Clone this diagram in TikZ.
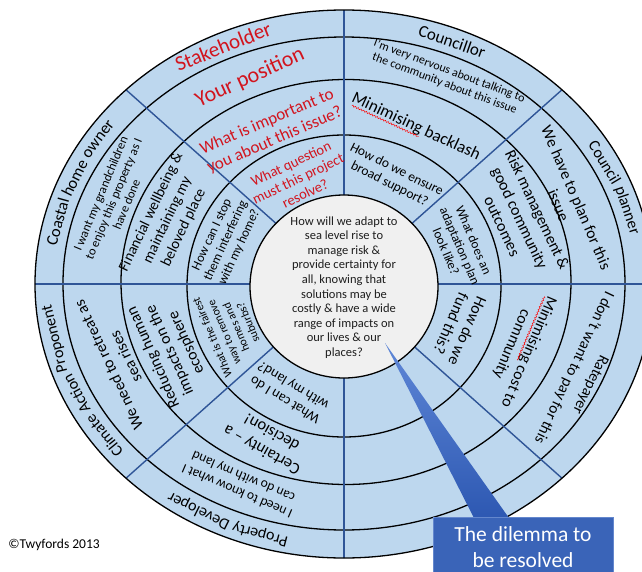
\documentclass[tikz,border=0pt]{standalone}
\usepackage{fontspec}
\setmainfont{Carlito}
\usetikzlibrary{decorations.pathmorphing,calc}
\definecolor{ringblue}{RGB}{189,215,238}
\definecolor{divblue}{RGB}{47,85,151}
\definecolor{hdrred}{RGB}{210,20,30}
\definecolor{circgrey}{RGB}{240,240,240}
\definecolor{boxblue}{RGB}{58,100,184}
\definecolor{boxedge}{RGB}{100,135,205}
\definecolor{wedgetop}{RGB}{95,135,215}
\definecolor{wedgebot}{RGB}{45,88,178}
\definecolor{txtgrey}{RGB}{30,30,30}
\newcommand\fsz[2]{\fontsize{#1}{#2}\selectfont}
% one word of an outer-ring label, placed on the middle of the outer ring at parameter #1
\newcommand\ringword[5]{%
  \node[lab, #4, font=\fsz{#3}{#3}, rotate={atan2(-260.5*cos(#1), 295*sin(#1))}]
    (#2) at ({295*cos(#1)},{260.5*sin(#1)}) {#5};}
\begin{document}
\begin{tikzpicture}[x=1pt,y=1pt,
  ringline/.style={draw=black, line width=1.3pt},
  divider/.style={draw=divblue, line width=1.4pt},
  lab/.style={align=center, inner sep=0pt},
  hdr/.style={lab, text=hdrred},
  body/.style={lab, text=black},
  squiggle/.style={draw=red, line width=0.5pt, decorate, decoration={snake, amplitude=0.8pt, segment length=3pt}}]
\useasboundingbox (-344,-287) rectangle (298,284);
% rings
\path[fill=ringblue] (0,0) ellipse [x radius=309, y radius=274];
\draw[ringline] (0,0.5) ellipse [x radius=281, y radius=246.5];
\draw[ringline] (2,2) ellipse [x radius=225, y radius=202.5];
\draw[ringline] (0,-2) ellipse [x radius=157, y radius=151];
\begin{scope}
  \clip (0,0) ellipse [x radius=309, y radius=274];
  \foreach \a in {0,41.7,90,138.3,180,221.7,270,318.3} \draw[divider] (0,0) -- (\a:430);
\end{scope}
\draw[ringline] (0,0) ellipse [x radius=309, y radius=274];
\draw[ringline, fill=circgrey] (0,-2.5) ellipse [x radius=94, y radius=91.5];
% outer ring labels
\ringword{114.2}{stake}{21}{text=hdrred}{Stakeholder}
\ringword{68.5}{councillor}{17}{text=black}{Councillor}
\ringword{27.8}{cplan1}{16}{text=black}{Council}
\ringword{16.4}{cplan2}{16}{text=black}{planner}
\ringword{166.2}{coast1}{16.5}{text=black}{Coastal}
\ringword{156.0}{coast2}{16.5}{text=black}{home}
\ringword{146.3}{coast3}{16.5}{text=black}{owner}
\ringword{-106.5}{dev1}{16}{text=black}{Property}
\ringword{-119.5}{dev2}{16}{text=black}{Developer}
\ringword{215.6}{clim1}{16}{text=black}{Climate}
\ringword{204.9}{clim2}{16}{text=black}{Action}
\ringword{192.1}{clim3}{16}{text=black}{Proponent}
% header sector
\node[hdr, rotate=24.4, font=\fsz{22}{26}] (yourpos) at (-94,206) {Your position};
\node[hdr, rotate=23.2, font=\fsz{17}{20}] (important) at (-73,153) {What is important to\\you about this issue?};
\node[hdr, rotate=25.5, font=\fsz{14.5}{16.5}] (question) at (-46,105.5) {What question\\must this project\\resolve?};
% councillor sector
\node[body, rotate=-20.6, font=\fsz{12}{13.5}] (nervous) at (103,206.5) {I'm very nervous about talking to\\the community about this issue};
\node[body, rotate=-25, font=\fsz{17}{20}] (backlash) at (72,157) {Minimising backlash};
\node[body, rotate=-26.6, font=\fsz{13.5}{16}] (support) at (49,107) {How do we ensure\\broad support?};
% council planner sector
\node[body, rotate=-66.7, font=\fsz{16}{19.5}] (plan) at (223.5,82.5) {We have to plan for this\\issue};
\node[body, rotate=-64.6, font=\fsz{16}{19.5}] (risk) at (176,66) {Risk management \&\\good community\\outcomes};
\node[body, rotate=-66.8, font=\fsz{13}{15}] (adapt) at (116,38) {What does an\\adaptation plan\\look like?};
% ratepayer sector
\node[body, rotate=-116, font=\fsz{15.5}{18}] (ratepayer) at (246,-100.5) {Ratepayer};
\node[body, rotate=-115.4, font=\fsz{15.5}{18}] (pay) at (230,-83.5) {I don't want to pay for this};
\node[body, rotate=-113.1, font=\fsz{16}{19}] (mincost) at (184.5,-68) {Minimising cost to};
\node[body, rotate=-113.1, font=\fsz{16}{19}] (community) at (167.5,-60) {community};
\node[body, rotate=-113.8, font=\fsz{16}{18}] (fund) at (115.5,-43.5) {How do we\\fund this?};
% property developer sector
\node[body, rotate=156.9, font=\fsz{13.5}{16}] (knowland) at (-103.5,-199.5) {I need to know what I\\can do with my land};
\node[body, rotate=150.8, font=\fsz{16.5}{20}] (certainty) at (-77.5,-157.75) {Certainty – a\\decision!};
\node[body, rotate=149, font=\fsz{14}{16.5}] (whatcan) at (-54.5,-108.5) {What can I do\\with my land?};
% climate action sector
\node[body, rotate=115.3, font=\fsz{16}{19}] (retreat) at (-227,-77) {We need to retreat as\\sea rises};
\node[body, rotate=114, font=\fsz{16}{18}] (reducing) at (-174,-66) {Reducing human\\impacts on the\\ecosphere};
\node[body, rotate=113, font=\fsz{11.5}{13}] (fairest) at (-114,-46) {What is the fairest\\way to remove\\homes and\\suburbs?};
% coastal home owner sector
\node[body, rotate=67.4, font=\fsz{12.5}{14}] (grandchildren) at (-230.5,85) {I want my grandchildren\\to enjoy this property as I\\have done};
\node[body, rotate=64.4, font=\fsz{15}{18}] (wellbeing) at (-176.5,64) {Financial wellbeing \&\\maintaining my\\beloved place};
\node[body, rotate=65, font=\fsz{13}{15}] (stop) at (-118,43) {How can I stop\\them interfering\\with my home?};
% centre
\node[lab, text=txtgrey, font=\fsz{12.5}{14.6}] (dilemma) at (0,-3.5) {How will we adapt to\\sea level rise to\\manage risk \&\\provide certainty for\\all, knowing that\\solutions may be\\costly \& have a wide\\range of impacts on\\our lives \& our\\places?};
% spell-check squiggles
\draw[squiggle] ($(backlash.south west)!0.02!(backlash.south east)$) -- ($(backlash.south west)!0.545!(backlash.south east)$);
\draw[squiggle] ($(mincost.south west)!0.02!(mincost.south east)$) -- ($(mincost.south west)!0.6!(mincost.south east)$);
% copyright
\node[lab, font=\fsz{13.5}{16}] (copy) at (-290,-261) {©Twyfords 2013};
% callout
\coordinate (tip) at (41,-59);
\shade[top color=wedgetop, bottom color=wedgebot] (tip) -- (130,-234) -- (165,-234) -- cycle;
\node[anchor=north, fill=boxblue, draw=boxedge, line width=0.8pt, minimum width=180pt, minimum height=60pt, inner sep=0pt, align=center, text=white, font=\fsz{21.5}{26}] (box) at (179,-233) {The dilemma to\\be resolved};
\end{tikzpicture}
\end{document}
